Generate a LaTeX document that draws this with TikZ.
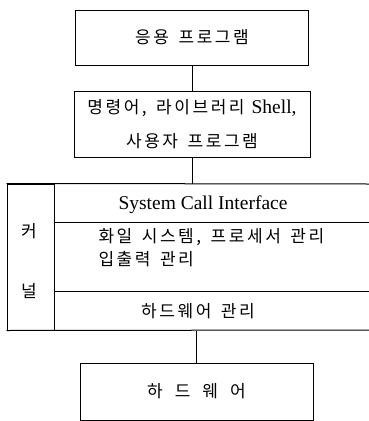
\documentclass[tikz,border=0pt]{standalone}
\usepackage{fontspec}
\setmainfont{Liberation Serif}
\newfontfamily\kr[LetterSpace=15,WordSpace=1.5]{Noto Sans CJK KR}
\newcommand\krtxt{\kr\fontsize{17}{33}\selectfont}

\begin{document}
\begin{tikzpicture}[x=1pt,y=-1pt,line width=1pt,
	box/.style={draw,inner sep=0pt},
	txt/.style={inner sep=0pt,font=\fontsize{19.5}{34}\selectfont}]
	\useasboundingbox (0,0) rectangle (369,421);
	% boites du haut
	\node[box,txt,minimum width=233pt,minimum height=55pt] (app) at (192,37.5) {\krtxt 응용 프로그램};
	\node[box,txt,align=center,minimum width=236pt,minimum height=66pt] (cmd) at (192,124) {{\krtxt 명령어, 라이브러리}\hspace{7pt}Shell,\\{\krtxt 사용자 프로그램}};
	% noyau
	\node[box,minimum width=47pt,minimum height=146pt] (kern) at (30.5,257) {};
	\node[txt] (kera) at (29,231) {\krtxt 커};
	\node[txt] (kerb) at (29,291) {\krtxt 널};
	\draw (kern.north west) -- (369,184); % couche du haut
	\draw (kern.south west) -- (369,330);
	\draw (kern.east |- 0,222) -- (369,222);
	\draw (kern.east |- 0,291) -- (369,291);
	\node[txt] (sci) at (203,205) {System Call Interface};
	\node[txt,anchor=west] (fs) at (98,237) {\krtxt 화일 시스템, 프로세서 관리};
	\node[txt,anchor=west] (io) at (98,259) {\krtxt 입출력 관리};
	\node[txt] (hwm) at (198,311) {\krtxt 하드웨어 관리};
	% materiel
	\node[box,txt,minimum width=233pt,minimum height=57pt] (hw) at (196.5,391.5) {\krtxt\spaceskip=12pt 하 드 웨 어};
	\draw (app.south) -- (cmd.north);
	\draw (cmd.south) -- (cmd.south |- kern.north);
	\draw (hw.north) -- (hw.north |- kern.south);
\end{tikzpicture}
\end{document}
